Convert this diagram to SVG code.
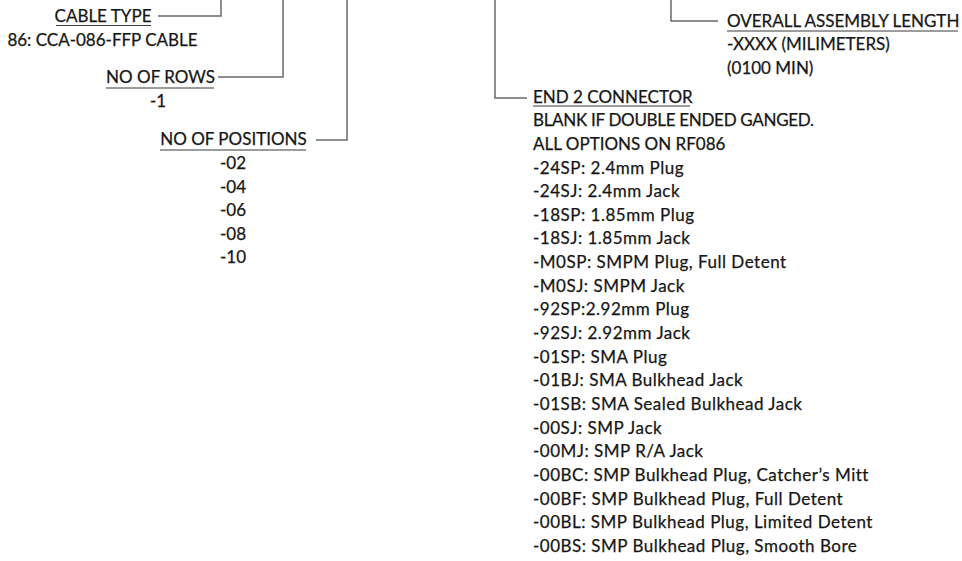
<svg xmlns="http://www.w3.org/2000/svg" width="962" height="561" viewBox="0 0 962 561">
<style>
text{font-family:Lato,"Open Sans","Liberation Sans",sans-serif;font-size:17px;fill:#161616;stroke:#161616;stroke-width:0.25}
.c{text-anchor:middle}
.m{letter-spacing:0.5px}
.u{stroke:#3a3a3a;stroke-width:1.2;fill:none}
.con{stroke:#6a6a6a;stroke-width:1.5;fill:none}
</style>
<rect width="962" height="561" fill="#fff"/>
<g id="connectors">
<polyline class="con" points="158,16 221,16 221,0"/>
<polyline class="con" points="218,77 283,77 283,0"/>
<polyline class="con" points="316,140 347,140 347,0"/>
<polyline class="con" points="527,98 495,98 495,0"/>
<polyline class="con" points="718,21 671,21 671,0"/>
</g>
<g id="cable-type">
<text class="c" x="103" y="22">CABLE TYPE</text>
<line class="u" x1="56" y1="25.5" x2="151" y2="25.5"/>
<text class="c" x="102.5" y="46">86: CCA-086-FFP CABLE</text>
</g>
<g id="no-of-rows">
<text class="c" x="160.5" y="83">NO OF ROWS</text>
<line class="u" x1="106" y1="88" x2="214" y2="88"/>
<text class="c" x="158" y="107">-1</text>
</g>
<g id="no-of-positions">
<text class="c" x="233.5" y="145">NO OF POSITIONS</text>
<line class="u" x1="160" y1="150" x2="306" y2="150"/>
<text class="c" x="233" y="169">-02</text>
<text class="c" x="233" y="192.5">-04</text>
<text class="c" x="233" y="216">-06</text>
<text class="c" x="233" y="239.5">-08</text>
<text class="c" x="233" y="263">-10</text>
</g>
<g id="overall-length">
<text x="727" y="27">OVERALL ASSEMBLY LENGTH</text>
<line class="u" x1="727" y1="31" x2="958" y2="31"/>
<text x="727" y="50">-XXXX (MILIMETERS)</text>
<text x="727" y="73.5">(0100 MIN)</text>
</g>
<g id="end2-connector">
<text x="533" y="102.5">END 2 CONNECTOR</text>
<line class="u" x1="533" y1="106" x2="690" y2="106"/>
<text x="533" y="126.2" style="letter-spacing:-0.3px">BLANK IF DOUBLE ENDED GANGED.</text>
<text x="533" y="149.8">ALL OPTIONS ON RF086</text>
<text class="m" x="533" y="173.5">-24SP: 2.4mm Plug</text>
<text class="m" x="533" y="197.1">-24SJ: 2.4mm Jack</text>
<text class="m" x="533" y="220.8">-18SP: 1.85mm Plug</text>
<text class="m" x="533" y="244.4">-18SJ: 1.85mm Jack</text>
<text class="m" x="533" y="268.1">-M0SP: SMPM Plug, Full Detent</text>
<text class="m" x="533" y="291.7">-M0SJ: SMPM Jack</text>
<text class="m" x="533" y="315.4">-92SP:2.92mm Plug</text>
<text class="m" x="533" y="339">-92SJ: 2.92mm Jack</text>
<text class="m" x="533" y="362.7">-01SP: SMA Plug</text>
<text class="m" x="533" y="386.3">-01BJ: SMA Bulkhead Jack</text>
<text class="m" x="533" y="410">-01SB: SMA Sealed Bulkhead Jack</text>
<text class="m" x="533" y="433.6">-00SJ: SMP Jack</text>
<text class="m" x="533" y="457.3">-00MJ: SMP R/A Jack</text>
<text class="m" x="533" y="480.9">-00BC: SMP Bulkhead Plug, Catcher’s Mitt</text>
<text class="m" x="533" y="504.6">-00BF: SMP Bulkhead Plug, Full Detent</text>
<text class="m" x="533" y="528.2">-00BL: SMP Bulkhead Plug, Limited Detent</text>
<text class="m" x="533" y="551.9">-00BS: SMP Bulkhead Plug, Smooth Bore</text>
</g>
</svg>
